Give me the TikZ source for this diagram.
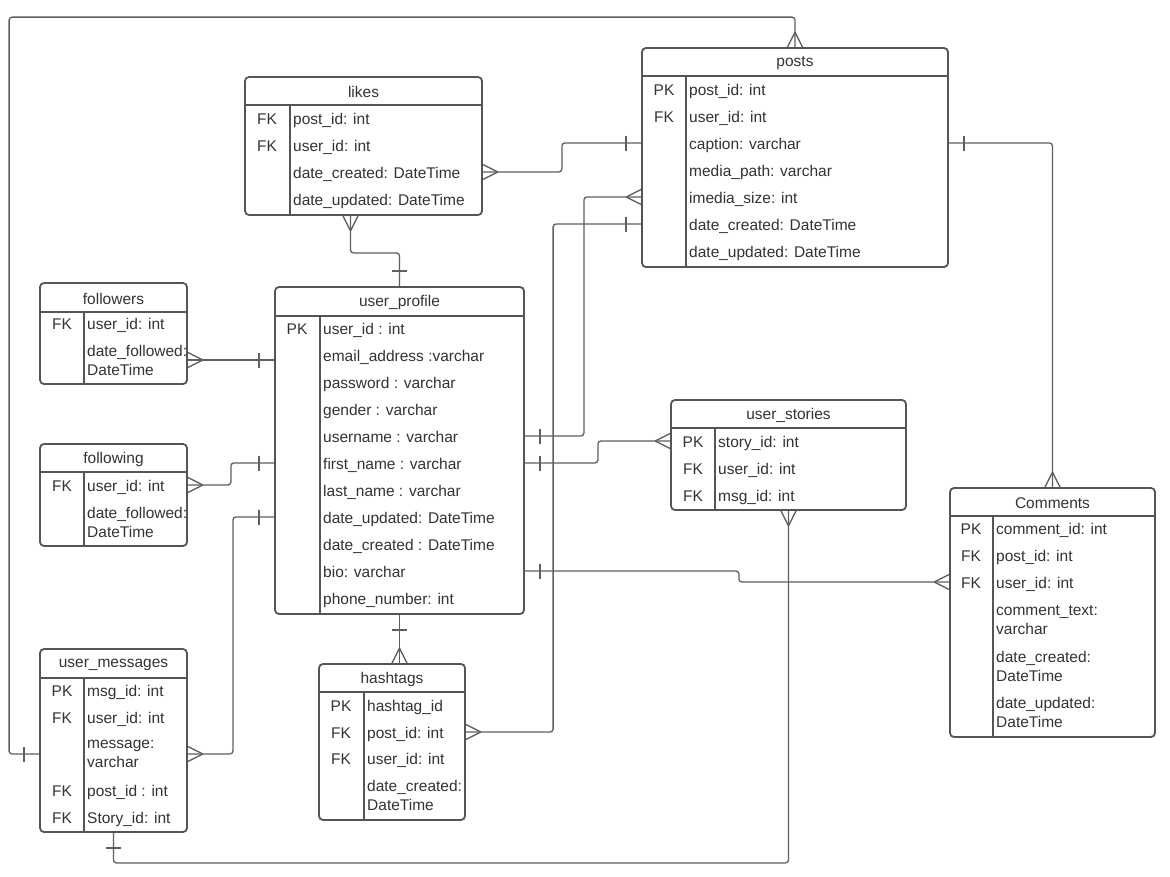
\documentclass[tikz,border=0pt]{standalone}
\usepackage{fontspec}
\setmainfont{Liberation Sans}
\definecolor{boxgray}{HTML}{555555}
\definecolor{txtgray}{HTML}{333333}
\definecolor{linegray}{HTML}{5F5F5F}
\newcommand{\entfont}{\fontsize{15.5}{19}\selectfont}

% crow's foot (many) and single bar (one)
\pgfdeclarearrow{
  name = crow,
  setup code = {
    \pgfarrowssettipend{0pt}
    \pgfarrowssetlineend{0pt}
    \pgfarrowssetbackend{-15pt}
  },
  drawing code = {
    \pgfpathmoveto{\pgfpoint{-15pt}{0pt}}
    \pgfpathlineto{\pgfpoint{0pt}{7.5pt}}
    \pgfpathmoveto{\pgfpoint{-15pt}{0pt}}
    \pgfpathlineto{\pgfpoint{0pt}{-7.5pt}}
    \pgfusepathqstroke
  }
}
\pgfdeclarearrow{
  name = onebar,
  setup code = {
    \pgfarrowssettipend{0pt}
    \pgfarrowssetlineend{0pt}
    \pgfarrowssetbackend{-15pt}
  },
  drawing code = {
    \pgfpathmoveto{\pgfpoint{-15pt}{7.5pt}}
    \pgfpathlineto{\pgfpoint{-15pt}{-7.5pt}}
    \pgfusepathqstroke
  }
}

\tikzset{
  entity/.style={draw=boxgray, fill=white, line width=1.8pt, rounded corners=4pt, inner sep=0pt},
  entityline/.style={draw=boxgray, line width=1.8pt},
  title/.style={text=txtgray, font=\entfont},
  keycell/.style={text=txtgray, font=\entfont, text height=14pt, text depth=2pt},
  field/.style={text=txtgray, font=\entfont, anchor=west, inner xsep=0pt, text height=14pt, text depth=2pt},
  field2/.style={text=txtgray, font=\entfont, anchor=west, inner xsep=0pt, align=left},
  relation/.style={draw=linegray, line width=1.3pt, rounded corners=3pt},
}

% name, left, top, right, bottom, header bottom, key divider, title
\newcommand{\erentity}[8]{%
  \node[entity, minimum width={#4-#2}, minimum height={#5-#3}] (#1) at ({(#2+#4)/2},{(#3+#5)/2}) {};
  \draw[entityline] (#2,#6) -- (#4,#6);
  \draw[entityline] (#7,#6) -- (#7,#5);
  \node[title] (#1-t) at ({(#2+#4)/2},{(#3+#6)/2+1}) {#8};
}

\begin{document}
\begin{tikzpicture}[x=1pt,y=-1pt]
\useasboundingbox (0,0) rectangle (1170,876);
\fill[white] (0,0) rectangle (1170,876);

% likes
\erentity{likes}{245}{77}{482}{215}{105}{290}{likes}
\node[keycell] (likes-k1) at (267,118) {FK};
\node[keycell] (likes-k2) at (267,145) {FK};
\node[field] (likes-r1) at (293,118) {post\_id: int};
\node[field] (likes-r2) at (293,145) {user\_id: int};
\node[field] (likes-r3) at (293,172) {date\_created: DateTime};
\node[field] (likes-r4) at (293,199) {date\_updated: DateTime};

% posts
\erentity{posts}{642}{48}{948}{267}{76}{686}{posts}
\node[keycell] (posts-k1) at (664,89) {PK};
\node[keycell] (posts-k2) at (664,116) {FK};
\node[field] (posts-r1) at (689,89) {post\_id: int};
\node[field] (posts-r2) at (689,116) {user\_id: int};
\node[field] (posts-r3) at (689,143) {caption: varchar};
\node[field] (posts-r4) at (689,170) {media\_path: varchar};
\node[field] (posts-r5) at (689,197) {imedia\_size: int};
\node[field] (posts-r6) at (689,224) {date\_created: DateTime};
\node[field] (posts-r7) at (689,251) {date\_updated: DateTime};

% followers
\erentity{followers}{40}{283}{187}{384}{312}{84}{followers}
\node[keycell] (followers-k1) at (62,323) {FK};
\node[field] (followers-r1) at (87,323) {user\_id: int};
\node[field2] (followers-r2) at (87,360) {date\_followed:\\DateTime};

% following
\erentity{following}{40}{444}{187}{546}{472}{84}{following}
\node[keycell] (following-k1) at (62,485) {FK};
\node[field] (following-r1) at (87,485) {user\_id: int};
\node[field2] (following-r2) at (87,522) {date\_followed:\\DateTime};

% user_profile
\erentity{profile}{275}{287}{524}{614}{316}{320}{user\_profile}
\node[keycell] (profile-k1) at (297,328) {PK};
\node[field] (profile-r1) at (323,328) {user\_id : int};
\node[field] (profile-r2) at (323,355) {email\_address :varchar};
\node[field] (profile-r3) at (323,382) {password : varchar};
\node[field] (profile-r4) at (323,409) {gender : varchar};
\node[field] (profile-r5) at (323,436) {username : varchar};
\node[field] (profile-r6) at (323,463) {first\_name : varchar};
\node[field] (profile-r7) at (323,490) {last\_name : varchar};
\node[field] (profile-r8) at (323,517) {date\_updated: DateTime};
\node[field] (profile-r9) at (323,544) {date\_created : DateTime};
\node[field] (profile-r10) at (323,571) {bio: varchar};
\node[field] (profile-r11) at (323,598) {phone\_number: int};

% user_stories
\erentity{stories}{671}{400}{906}{510}{428}{715}{user\_stories}
\node[keycell] (stories-k1) at (693,441) {PK};
\node[keycell] (stories-k2) at (693,468) {FK};
\node[keycell] (stories-k3) at (693,495) {FK};
\node[field] (stories-r1) at (718,441) {story\_id: int};
\node[field] (stories-r2) at (718,468) {user\_id: int};
\node[field] (stories-r3) at (718,495) {msg\_id: int};

% Comments
\erentity{comments}{950}{488}{1155}{737}{516}{993}{Comments}
\node[keycell] (comments-k1) at (971,528) {PK};
\node[keycell] (comments-k2) at (971,555) {FK};
\node[keycell] (comments-k3) at (971,582) {FK};
\node[field] (comments-r1) at (996,528) {comment\_id: int};
\node[field] (comments-r2) at (996,555) {post\_id: int};
\node[field] (comments-r3) at (996,582) {user\_id: int};
\node[field2] (comments-r4) at (996,620) {comment\_text:\\varchar};
\node[field2] (comments-r5) at (996,666) {date\_created:\\DateTime};
\node[field2] (comments-r6) at (996,712) {date\_updated:\\DateTime};

% user_messages
\erentity{msgs}{40}{649}{187}{832}{678}{84}{user\_messages}
\node[keycell] (msgs-k1) at (62,690) {PK};
\node[keycell] (msgs-k2) at (62,717) {FK};
\node[keycell] (msgs-k4) at (62,790) {FK};
\node[keycell] (msgs-k5) at (62,817) {FK};
\node[field] (msgs-r1) at (87,690) {msg\_id: int};
\node[field] (msgs-r2) at (87,717) {user\_id: int};
\node[field2] (msgs-r3) at (87,754) {message:\\varchar};
\node[field] (msgs-r4) at (87,790) {post\_id : int};
\node[field] (msgs-r5) at (87,817) {Story\_id: int};

% hashtags
\erentity{hashtags}{319}{664}{465}{820}{692}{364}{hashtags}
\node[keycell] (hashtags-k1) at (341,705) {PK};
\node[keycell] (hashtags-k2) at (341,732) {FK};
\node[keycell] (hashtags-k3) at (341,758) {FK};
\node[field] (hashtags-r1) at (367,705) {hashtag\_id};
\node[field] (hashtags-r2) at (367,732) {post\_id: int};
\node[field] (hashtags-r3) at (367,758) {user\_id: int};
\node[field2] (hashtags-r4) at (367,795) {date\_created:\\DateTime};

% relations
\draw[relation, crow-onebar] (likes.east |- likes-r3) -- ++(79,0) |- (posts.west |- posts-r3);
\draw[relation, crow-onebar] ([xshift=-13pt]likes.south) -- ++(0,37) -| (profile.north);
\draw[relation, onebar-crow] (profile.east |- profile-r5) -- ++(59,0) |- (posts.west |- posts-r5);
\draw[relation, onebar-crow] (posts.west |- posts-r6) -- ++(-88,0) |- (hashtags.east |- hashtags-r2);
\draw[relation, onebar-crow] (profile.east |- profile-r6) -- ++(73,0) |- (stories.west |- stories-r1);
\draw[relation, onebar-crow] (profile.east |- profile-r10) -- ++(214,0) |- (comments.west |- comments-r3);
\draw[relation, onebar-crow] (posts.east |- posts-r3) -| (comments.north);
\draw[relation, crow-onebar] (followers.east |- followers-r2) -- (profile.west |- followers-r2);
\draw[relation, crow-onebar] (following.east |- following-r1) -- ++(43,0) |- (profile.west |- profile-r6);
\draw[relation, crow-onebar] (msgs.east |- msgs-r3) -- ++(45,0) |- (profile.west |- profile-r8);
\draw[relation, onebar-crow] (msgs.west |- msgs-r3) -- ++(-30,0) |- ([yshift=30pt]posts.north) -- (posts.north);
\draw[relation, onebar-crow] (msgs.south) -- ++(0,30) -| (stories.south);
\draw[relation, onebar-crow] (profile.south) -- (profile.south |- hashtags.north);
\end{tikzpicture}
\end{document}
